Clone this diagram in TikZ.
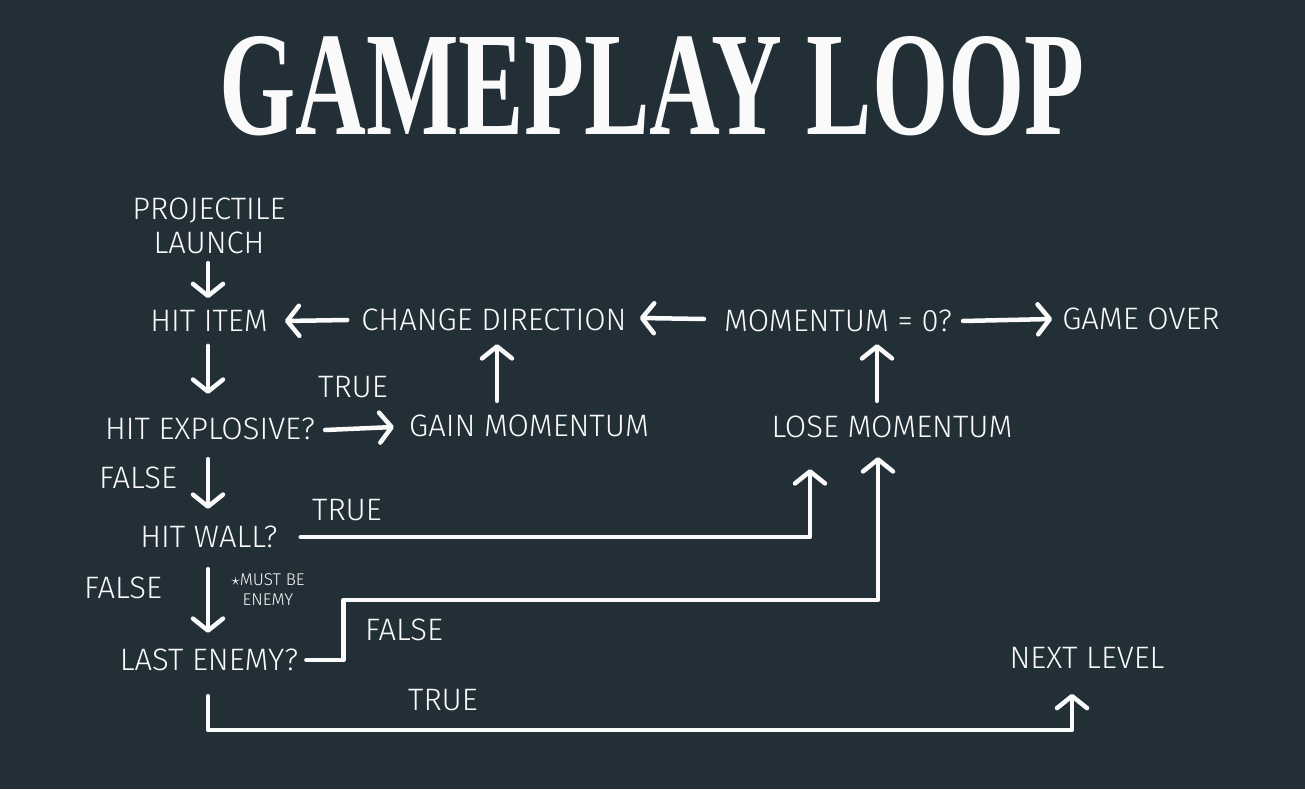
\documentclass[tikz,border=0pt]{standalone}
\usepackage{fontspec}
\usetikzlibrary{arrows.meta,calc}
\setmainfont{Fira Sans}[UprightFont=* Light, BoldFont=* Bold]
\newfontfamily\titlefont{Liberation Serif}
\definecolor{board}{HTML}{222F37}
\definecolor{chalkwhite}{HTML}{FAFAFA}

\begin{document}
\begin{tikzpicture}[x=1pt,y=-1pt,
  lbl/.style={text=chalkwhite, inner sep=0pt, font=\fontsize{31}{34}\selectfont, align=center},
  note/.style={text=chalkwhite, inner sep=0pt, font=\fontsize{17}{20}\selectfont, align=center},
  chalk/.style={draw=chalkwhite, line width=4.5pt, line cap=round, line join=round,
    -{Straight Barb[length=12pt,width=30pt,line width=4.5pt,round]}}]
\fill[board] (0,0) rectangle (1305,789);
\useasboundingbox (0,0) rectangle (1305,789);

% heading
\node[text=chalkwhite, inner sep=0pt] (title) at (652,86)
  {\resizebox{865pt}{98pt}{\titlefont\bfseries GAMEPLAY LOOP}};

% states
\node[lbl] (launch)   at (209,226) {PROJECTILE\\LAUNCH};
\node[lbl] (hititem)  at (209,321) {HIT ITEM};
\node[lbl] (change)   at (494,320) {CHANGE DIRECTION};
\node[lbl] (momentum) at (838,321) {MOMENTUM = 0?};
\node[lbl] (gameover) at (1141,319) {GAME OVER};
\node[lbl] (hitexp)   at (210,429) {HIT EXPLOSIVE?};
\node[lbl] (gain)     at (529,426) {GAIN MOMENTUM};
\node[lbl] (lose)     at (892,427) {LOSE MOMENTUM};
\node[lbl] (hitwall)  at (209,537) {HIT WALL?};
\node[lbl] (lastenemy) at (209,660) {LAST ENEMY?};
\node[lbl] (nextlevel) at (1087,658) {NEXT LEVEL};

% branch labels
\node[lbl] (t1) at (353,387) {TRUE};
\node[lbl] (f1) at (138,478) {FALSE};
\node[lbl] (t2) at (347,510) {TRUE};
\node[lbl] (f2) at (123,588) {FALSE};
\node[lbl] (f3) at (404,630) {FALSE};
\node[lbl] (t3) at (443,700) {TRUE};
\node[note] (must) at (268,590) {$\star$MUST BE\\ENEMY};

% connectors
\draw[chalk] ($(launch.south)+(-1,9)$) -- ($(hititem.north)+(-1,-12)$);
\draw[chalk] ($(change.west)+(-14,0)$) -- ($(hititem.east)+(17,0)$);
\draw[chalk] ($(momentum.west)+(-20,-2)$) -- ($(change.east)+(13,-2)$);
\draw[chalk] ($(momentum.east)+(11,0)$) -- ($(gameover.west)+(-10,0)$);
\draw[chalk] ($(hititem.south)+(-1,14)$) -- ($(hititem.south |- hitexp.north)+(-1,-24)$);
\draw[chalk] ($(hitexp.east)+(10,1)$) -- ($(gain.west)+(-15,1)$);
\draw[chalk] ($(change.south |- gain.north)+(3,-14)$) -- ($(change.south)+(3,13)$);
\draw[chalk] ($(lose.north)+(-15,-15)$) -- ($(lose.north |- momentum.south)+(-15,12)$);
\draw[chalk] ($(hitexp.south)+(-2,19)$) -- ($(hitexp.south |- hitwall.north)+(-2,-17)$);
\draw[chalk] ($(hitwall.south)+(-1,21)$) -- ($(hitwall.south |- lastenemy.north)+(-1,-16)$);
\draw[chalk] ($(hitwall.east)+(23,0)$) -| ($(lose.south)+(-82,31)$);
\draw[chalk] ($(lastenemy.east)+(8,0)$) -- ++(37,0) -- ++(0,-60) -| ($(lose.south)+(-14,19)$);
\draw[chalk] ($(lastenemy.south)+(-1,25)$) -- ++(0,34) -| ($(nextlevel.south)+(-15,25)$);
\end{tikzpicture}
\end{document}
